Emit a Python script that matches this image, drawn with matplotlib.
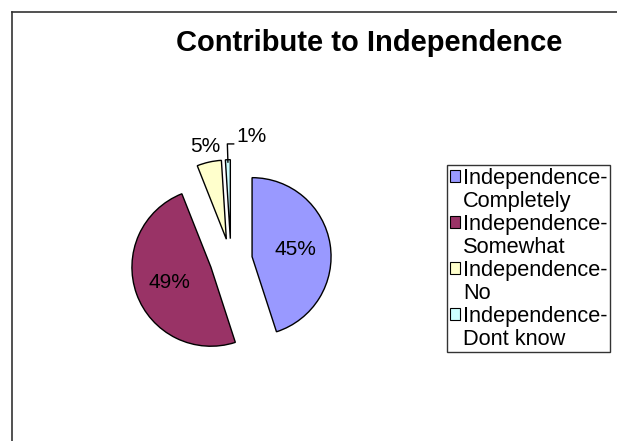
import numpy as np
import matplotlib.pyplot as plt
from matplotlib.patches import Patch
from matplotlib.lines import Line2D

plt.rcParams['font.family'] = ['Liberation Sans', 'DejaVu Sans']

# dados
categorias = ['Independence-\nCompletely', 'Independence-\nSomewhat',
              'Independence-\nNo', 'Independence-\nDont know']
valores = [45, 49, 5, 1]
rotulos = ['45%', '49%', '5%', '1%']
cores = ['#9999FF', '#993366', '#FFFFCC', '#CCFFFF']

W, H = 617, 441
fig = plt.figure(figsize=(W / 100, H / 100), dpi=100)

# moldura (só esquerda e topo visíveis)
fig.add_artist(Line2D([12 / W, 12 / W], [0, 1 - 12 / H], color='#333333', lw=1.2))
fig.add_artist(Line2D([12 / W, 1], [1 - 12 / H, 1 - 12 / H], color='#333333', lw=1.2))

fig.text(369 / W, 1 - 43 / H, 'Contribute to Independence', ha='center', va='center',
         fontsize=21, fontweight='bold')

# eixo da pizza: 79 px por unidade
cx, cy, esc = 231, 260, 79
ax = fig.add_axes([(cx - 2 * esc) / W, (H - cy - 2 * esc) / H, 4 * esc / W, 4 * esc / H])

wedges, _ = ax.pie(valores, colors=cores, startangle=90, counterclock=False,
                   explode=[0.27] * 4, radius=1,
                   wedgeprops=dict(edgecolor='black', linewidth=1))
ax.set_xlim(-2, 2)
ax.set_ylim(-2, 2)
ax.axis('off')

for i, (w, txt) in enumerate(zip(wedges, rotulos)):
    ang = np.deg2rad((w.theta1 + w.theta2) / 2)
    x0, y0 = w.center
    d = np.array([np.cos(ang), np.sin(ang)])
    if valores[i] > 10:
        px, py = np.array([x0, y0]) + 0.56 * d
        ax.text(px, py, txt, ha='center', va='center', fontsize=15)
    elif i == 2:
        px, py = np.array([x0, y0]) + 1.2 * d
        ax.text(px, py, txt, ha='center', va='center', fontsize=15)
    else:
        p1 = np.array([x0, y0]) + 0.97 * d
        p2 = np.array([x0, y0]) + 1.2 * d
        ax.plot([p1[0], p2[0], p2[0] + 0.08], [p1[1], p2[1], p2[1]], color='black', lw=1)
        ax.text(p2[0] + 0.11, p2[1] + 0.09, txt, ha='left', va='center', fontsize=15)

# legenda: quadrado alinhado com a primeira linha de cada item
handles, textos = [], []
for c, cat in zip(cores, categorias):
    l1, l2 = cat.split('\n')
    handles.append(Patch(facecolor=c, edgecolor='black', linewidth=0.8))
    textos.append(l1)
    handles.append(Patch(facecolor='none', edgecolor='none'))
    textos.append(l2)

leg = fig.legend(handles, textos, loc='upper left',
                 bbox_to_anchor=(447 / W, 1 - 165 / H), borderaxespad=0,
                 fontsize=15.7, frameon=True, fancybox=False, borderpad=0.13,
                 handlelength=0.45, handleheight=0.45, handletextpad=0.15,
                 labelspacing=0.09)
leg.get_frame().set_edgecolor('black')
leg.get_frame().set_linewidth(1)

fig.savefig('out.png', dpi=100)
